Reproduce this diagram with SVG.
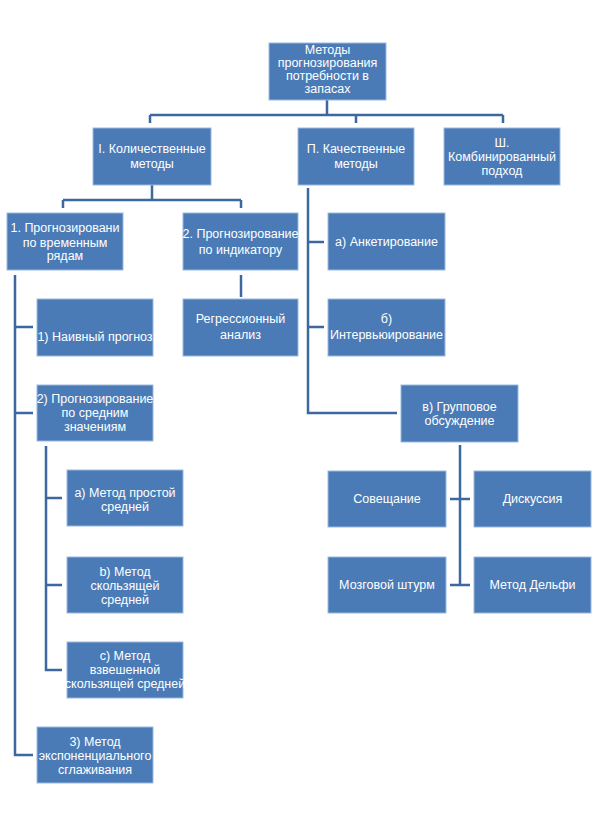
<svg xmlns="http://www.w3.org/2000/svg" width="595" height="826" viewBox="0 0 595 826">
<defs>
<style>
.box{fill:#4a7bb7;stroke:#9bb9e0;stroke-width:1}
.t{font-family:"Liberation Sans",Arial,sans-serif;font-size:12.5px;fill:#ffffff;text-anchor:middle}
.c{fill:none;stroke:#3d679f;stroke-width:2.5}
</style>
</defs>
<rect width="595" height="826" fill="#ffffff"/>
<g id="connectors" class="c">
<path d="M327,100 V115 M150,115 H503 M150,115 V123 M356,115 V123 M503,115 V123"/>
<path d="M152,185 V200 M63,200 H241 M63,200 V208 M241,200 V208"/>
<path d="M241,275 V297"/>
<path d="M15,275 V755 H33 M15,327 H33 M15,413 H33"/>
<path d="M46,446 V670 H62 M46,498 H62 M46,585 H62"/>
<path d="M308,188 V413 H397 M308,242 H324 M308,327 H324"/>
<path d="M460,445 V585 M450,499 H470 M450,585 H470"/>
</g>
<g id="n-top"><rect class="box" x="269" y="43" width="117" height="57"/>
<text class="t"><tspan x="327.5" y="54">Методы</tspan><tspan x="327.5" y="67">прогнозирования</tspan><tspan x="327.5" y="80">потребности в</tspan><tspan x="327.5" y="93">запасах</tspan></text></g>
<g id="n-I"><rect class="box" x="93" y="128" width="118" height="57"/>
<text class="t"><tspan x="152" y="153">I. Количественные</tspan><tspan x="152" y="168">методы</tspan></text></g>
<g id="n-II"><rect class="box" x="298" y="128" width="116" height="57"/>
<text class="t"><tspan x="356" y="153">П. Качественные</tspan><tspan x="356" y="168">методы</tspan></text></g>
<g id="n-III"><rect class="box" x="444" y="128" width="116" height="57"/>
<text class="t"><tspan x="502" y="147">Ш.</tspan><tspan x="502" y="161">Комбинированный</tspan><tspan x="502" y="175">подход</tspan></text></g>
<g id="n-1"><rect class="box" x="7" y="213" width="116" height="57"/>
<text class="t"><tspan x="65" y="232">1. Прогнозировани</tspan><tspan x="65" y="247">по временным</tspan><tspan x="65" y="260">рядам</tspan></text></g>
<g id="n-2"><rect class="box" x="183" y="213" width="115" height="57"/>
<text class="t"><tspan x="240.5" y="238">2. Прогнозирование</tspan><tspan x="240.5" y="254">по индикатору</tspan></text></g>
<g id="n-regr"><rect class="box" x="183" y="299" width="115" height="57"/>
<text class="t"><tspan x="240.5" y="323">Регрессионный</tspan><tspan x="240.5" y="339">анализ</tspan></text></g>
<g id="n-naive"><rect class="box" x="37" y="299" width="116" height="57"/>
<text class="t" x="95" y="341">1) Наивный прогноз</text></g>
<g id="n-anket"><rect class="box" x="328" y="213" width="117" height="57"/>
<text class="t" x="386.5" y="246">а) Анкетирование</text></g>
<g id="n-interv"><rect class="box" x="328" y="299" width="117" height="57"/>
<text class="t"><tspan x="386.5" y="323">б)</tspan><tspan x="386.5" y="339">Интервьюирование</tspan></text></g>
<g id="n-group"><rect class="box" x="401" y="385" width="117" height="57"/>
<text class="t"><tspan x="459.5" y="411">в) Групповое</tspan><tspan x="459.5" y="425">обсуждение</tspan></text></g>
<g id="n-avg"><rect class="box" x="37" y="385" width="116" height="56"/>
<text class="t"><tspan x="95" y="403">2) Прогнозирование</tspan><tspan x="95" y="417">по средним</tspan><tspan x="95" y="431">значениям</tspan></text></g>
<g id="n-simple"><rect class="box" x="67" y="470" width="116" height="56"/>
<text class="t"><tspan x="125" y="497">а) Метод простой</tspan><tspan x="125" y="511">средней</tspan></text></g>
<g id="n-moving"><rect class="box" x="67" y="557" width="116" height="56"/>
<text class="t"><tspan x="125" y="576">b) Метод</tspan><tspan x="125" y="590">скользящей</tspan><tspan x="125" y="604">средней</tspan></text></g>
<g id="n-weighted"><rect class="box" x="67" y="642" width="116" height="56"/>
<text class="t"><tspan x="125" y="660">с) Метод</tspan><tspan x="125" y="674">взвешенной</tspan><tspan x="125" y="688">скользящей средней</tspan></text></g>
<g id="n-exp"><rect class="box" x="37" y="727" width="116" height="56"/>
<text class="t"><tspan x="95" y="746">3) Метод</tspan><tspan x="95" y="760">экспоненциального</tspan><tspan x="95" y="774">сглаживания</tspan></text></g>
<g id="n-sovesh"><rect class="box" x="328" y="471" width="118" height="56"/>
<text class="t" x="387" y="503">Совещание</text></g>
<g id="n-disk"><rect class="box" x="474" y="471" width="117" height="56"/>
<text class="t" x="532.5" y="503">Дискуссия</text></g>
<g id="n-brain"><rect class="box" x="328" y="557" width="118" height="56"/>
<text class="t" x="387" y="589">Мозговой штурм</text></g>
<g id="n-delphi"><rect class="box" x="474" y="557" width="117" height="56"/>
<text class="t" x="532.5" y="589">Метод Дельфи</text></g>
</svg>
